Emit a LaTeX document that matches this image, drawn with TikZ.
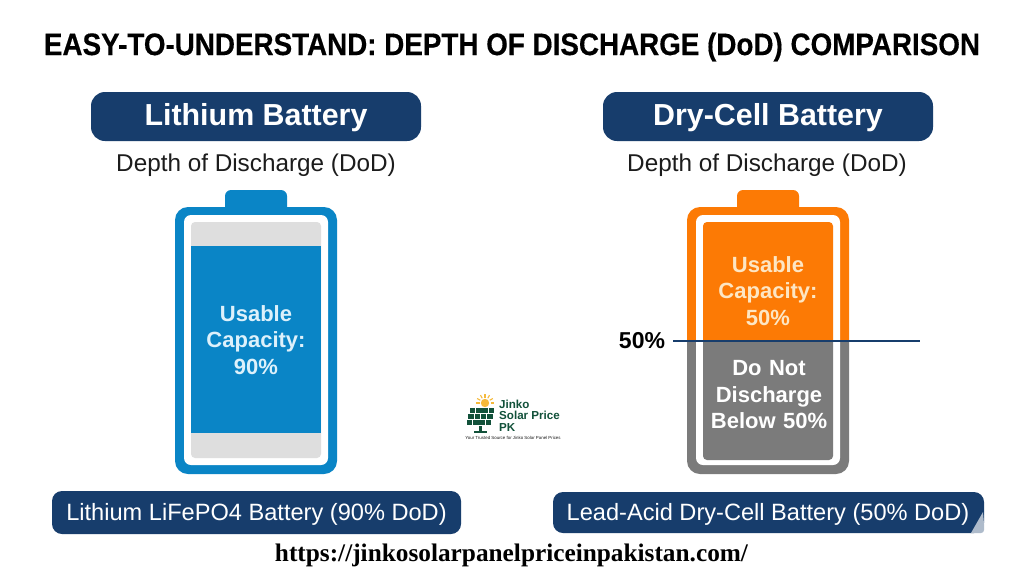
\documentclass[tikz,border=0pt]{standalone}
\usepackage{fontspec}
\setmainfont{Liberation Sans}
\newfontfamily\serifb{Liberation Serif}[BoldFont={Liberation Serif Bold}]
\newfontfamily\titlefont{Liberation Sans Bold}[FakeBold=0.4]
\definecolor{navy}{HTML}{173D6C}
\definecolor{battblue}{HTML}{0A85C6}
\definecolor{battorange}{HTML}{FC7A05}
\definecolor{battgray}{HTML}{7B7B7B}
\definecolor{lightgray}{HTML}{DEDEDE}
\definecolor{inktext}{HTML}{1C1C1C}
\definecolor{capblue}{HTML}{DDF1FB}
\definecolor{caporange}{HTML}{FDE6C4}
\definecolor{panelgreen}{HTML}{12513A}
\definecolor{sunyellow}{HTML}{F5B93A}
\tikzset{
  x=1pt,y=-1pt,
  pill/.style={fill=navy,rounded corners=14pt,draw=none},
  lowpill/.style={fill=navy,rounded corners=10pt,draw=none},
  pilltext/.style={text=white,font=\bfseries\fontsize{30.4}{32}\selectfont,anchor=center,inner sep=0},
  subtext/.style={text=inktext,font=\fontsize{24.3}{26}\selectfont,anchor=center,inner sep=0},
  captext/.style={text=white,font=\fontsize{23.6}{26}\selectfont,anchor=center,inner sep=0},
  cell/.style={text width=140pt,align=center,font=\bfseries\fontsize{22}{26.5}\selectfont,anchor=center,inner sep=0},
}
\newcommand{\battshell}[2]{%
  \fill[#2,rounded corners=6pt] (#1+50,190) rectangle (#1+112,215);
  \fill[#2,rounded corners=13pt] (#1,207) rectangle (#1+162,474);
  \fill[white,rounded corners=7pt] (#1+9,215) rectangle (#1+153,465);
}
\begin{document}
\begin{tikzpicture}
\useasboundingbox (0,0) rectangle (1024,576);
\fill[white] (0,0) rectangle (1024,576);
\node[inner sep=0,text=black] (title) at (512,47) {\resizebox{936pt}{22.5pt}{\titlefont EASY-TO-UNDERSTAND: DEPTH OF DISCHARGE (DoD) COMPARISON}};
% top pills
\fill[pill] (91,92) rectangle (421,141);
\node[pilltext] (lt) at (256,118) {Lithium Battery};
\fill[pill] (603,92) rectangle (933,141);
\node[pilltext] (dt) at (768,118) {Dry-Cell Battery};
\node[subtext] (ls) at (256,165) {Depth of Discharge (DoD)};
\node[subtext] (ds) at (767,165) {Depth of Discharge (DoD)};
% left battery
\battshell{175}{battblue}
\fill[lightgray,rounded corners=4pt] (191,222) rectangle (321,458);
\fill[battblue] (191,246) rectangle (321,433);
\node[cell,text=capblue] (lc) at (256,340) {Usable\\Capacity:\\90\%};
% right battery
\begin{scope}
\clip (680,185) rectangle (856,341);
\battshell{687}{battorange}
\fill[battorange,rounded corners=4pt] (703,222) rectangle (833,400);
\end{scope}
\begin{scope}
\clip (680,341) rectangle (856,480);
\battshell{687}{battgray}
\fill[battgray,rounded corners=4pt] (703,300) rectangle (833,460);
\end{scope}
\node[cell,text=caporange] (uc) at (768,291) {Usable\\Capacity:\\50\%};
\node[cell,text=white] (dn) at (769,395) {Do Not\\Discharge\\Below 50\%};
\node[inner sep=0,text=black,font=\bfseries\fontsize{23}{26}\selectfont] (fifty) at (642,341) {50\%};
\coordinate (ls1) at (673,341);
\coordinate (ls2) at (920,341);
\draw[navy,line width=2.2pt] (ls1) -- (ls2);
% logo
\fill[sunyellow] (485,403) circle (4.2);
\foreach \a in {0,30,...,180}{\draw[sunyellow,line width=1.1pt] (485,403) ++(-\a:5.5) -- ++(-\a:3.5);}
\foreach \r in {0,1,2}{\foreach \c in {0,1,2,3}{
  \fill[panelgreen] ({468.5+\c*6.3-(2-\r)*(-0.6)-\r*0.9},{407.5+\r*6.2}) rectangle ++(5.6,5.4);}}
\fill[panelgreen] (479,426) rectangle (482,431);
\fill[panelgreen] (474,431) rectangle (487,432.5);
\node[inner sep=0,anchor=west,text=panelgreen,font=\bfseries\fontsize{11.6}{11.6}\selectfont,align=left] (lg) at (499,415.5) {Jinko\\Solar Price\\PK};
\node[inner sep=0,text=inktext,font=\fontsize{4.4}{4.4}\selectfont] (lgs) at (513,437.5) {Your Trusted Source for Jinko Solar Panel Prices};
% bottom pills
\fill[lowpill] (52,491) rectangle (461,534);
\node[captext] (lb) at (256.5,514) {Lithium LiFePO4 Battery (90\% DoD)};
\fill[lowpill] (553,492) rectangle (984,533);
\fill[white!65!navy] (983,512) -- (984,524) [rounded corners=3pt] -- (984,533) [sharp corners] -- (971,533) -- cycle;
\node[captext] (db) at (768,514) {Lead-Acid Dry-Cell Battery (50\% DoD)};
\node[inner sep=0,text=black,font=\serifb\bfseries\fontsize{25.3}{28}\selectfont] (url) at (511.5,555) {https://jinkosolarpanelpriceinpakistan.com/};
\end{tikzpicture}
\end{document}
